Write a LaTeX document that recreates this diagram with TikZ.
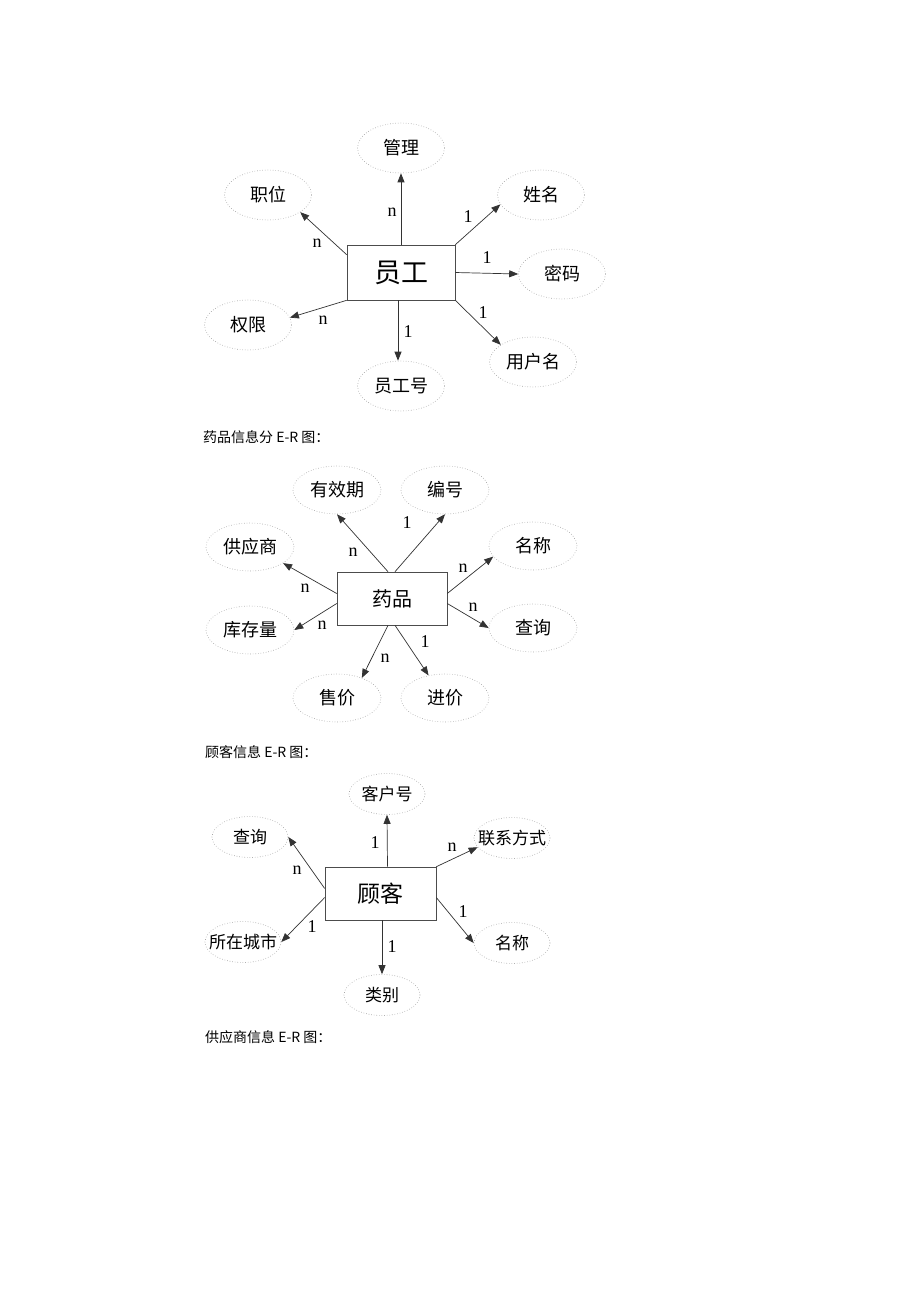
\documentclass[tikz,border=0pt]{standalone}
\usepackage{fontspec}
\setmainfont{Liberation Serif}
\newfontfamily\cjk{Noto Sans CJK SC}
\usetikzlibrary{shapes.geometric,arrows.meta}
\newcommand\zb[1]{\makebox[0pt]{#1}}
\begin{document}
\begin{tikzpicture}[x=1pt,y=-1pt,
 attr/.style={ellipse, draw=gray!75, dotted, line width=0.6pt, inner sep=0pt,
   font=\cjk\fontsize{18}{18}\selectfont},
 aA/.style={attr, minimum width=87pt, minimum height=50pt},
 aB/.style={attr, minimum width=88pt, minimum height=48pt},
 aC/.style={attr, minimum width=76pt, minimum height=41pt, font=\cjk\fontsize{17}{17}\selectfont},
 ent/.style={rectangle, draw=black!70, line width=0.6pt, inner sep=0pt},
 rel/.style={draw=black!80, line width=0.7pt, -{Triangle[length=9pt,width=7pt]}},
 card/.style={font=\fontsize{18}{18}\selectfont, inner sep=0pt},
 captxt/.style={anchor=west, font=\cjk\fontsize{14}{14}\selectfont, inner sep=0pt}]
\useasboundingbox (0,0) rectangle (920,1302);
\fill[white] (0,0) rectangle (920,1302);

% ---------- diagram 1 ----------
\node[ent, minimum width=108pt, minimum height=55pt, font=\cjk\fontsize{27}{27}\selectfont] (r1) at (401,272.5) {员工};
\node[aA] (e1gl) at (401,148) {\zb{管理}};
\node[aA] (e1zw) at (268,195) {\zb{职位}};
\node[aA] (e1xm) at (541,195) {\zb{姓名}};
\node[aA] (e1mm) at (562,274) {\zb{密码}};
\node[aA] (e1qx) at (248,325) {\zb{权限}};
\node[aA] (e1gh) at (401,386) {\zb{员工号}};
\node[aA] (e1yh) at (533,362) {\zb{用户名}};
\draw[rel] (r1.north) -- (e1gl.south);
\draw[rel] ([yshift=-10pt]r1.north west) -- (e1zw.-28);
\draw[rel] (r1.north east) -- (e1xm.193);
\draw[rel] (r1.east) -- (e1mm.west);
\draw[rel] (r1.south west) -- (e1qx.10);
\draw[rel] ([xshift=-3pt]r1.south) -- ([xshift=-3pt]e1gh.north);
\draw[rel] (r1.south east) -- (e1yh.152);
\node[card] (k1a) at (392,212) {n};
\node[card] (k1b) at (317,243) {n};
\node[card] (k1c) at (468,217) {1};
\node[card] (k1d) at (487,258) {1};
\node[card] (k1e) at (323,320) {n};
\node[card] (k1f) at (408,332) {1};
\node[card] (k1g) at (483,313) {1};

% ---------- diagram 2 ----------
\node[captxt] (c1) at (203,437) {药品信息分 E-R 图：};
\node[ent, minimum width=110pt, minimum height=53pt, font=\cjk\fontsize{20}{20}\selectfont] (r2) at (392,598.5) {药品};
\node[aB] (e2yx) at (337,490) {\zb{有效期}};
\node[aB] (e2bh) at (445,490) {\zb{编号}};
\node[aB] (e2gy) at (250,547) {\zb{供应商}};
\node[aB] (e2kc) at (250,630) {\zb{库存量}};
\node[aB] (e2mc) at (533,546) {\zb{名称}};
\node[aB] (e2cx) at (533,628) {\zb{查询}};
\node[aB] (e2sj) at (337,698) {\zb{售价}};
\node[aB] (e2jj) at (445,698) {\zb{进价}};
\draw[rel] ([xshift=-4pt]r2.north) -- (e2yx.south);
\draw[rel] ([xshift=3pt]r2.north) -- (e2bh.south);
\draw[rel] ([yshift=5pt]r2.west) -- (e2gy.-26);
\draw[rel] ([yshift=-5pt]r2.west) -- (e2kc.east);
\draw[rel] ([yshift=5pt]r2.east) -- (e2mc.195);
\draw[rel] ([yshift=-5pt]r2.east) -- (e2cx.west);
\draw[rel] ([xshift=-4pt]r2.south) -- (e2sj.39);
\draw[rel] ([xshift=3pt]r2.south) -- (e2jj.126);
\node[card] (k2a) at (353,552) {n};
\node[card] (k2b) at (407,523) {1};
\node[card] (k2c) at (305,588) {n};
\node[card] (k2d) at (322,625) {n};
\node[card] (k2e) at (463,568) {n};
\node[card] (k2f) at (473,607) {n};
\node[card] (k2g) at (385,658) {n};
\node[card] (k2h) at (425,642) {1};

% ---------- diagram 3 ----------
\node[captxt] (c2) at (205,752) {顾客信息 E-R 图：};
\node[ent, minimum width=111pt, minimum height=53pt, font=\cjk\fontsize{23}{23}\selectfont] (r3) at (380.5,893.5) {顾客};
\node[aC] (e3kh) at (387,794) {\zb{客户号}};
\node[aC] (e3cx) at (250,837) {\zb{查询}};
\node[aC] (e3lx) at (512,838) {\zb{联系方式}};
\node[aC] (e3sz) at (243,942) {\zb{所在城市}};
\node[aC] (e3mc) at (512,943) {\zb{名称}};
\node[aC] (e3lb) at (382,995) {\zb{类别}};
\draw[rel] ([xshift=7pt]r3.north) -- (e3kh.south);
\draw[rel] ([yshift=5pt]r3.west) -- (e3cx.east);
\draw[rel] (r3.north east) -- (e3lx.195);
\draw[rel] ([yshift=-4pt]r3.west) -- (e3sz.east);
\draw[rel] ([yshift=-4pt]r3.east) -- (e3mc.west);
\draw[rel] ([xshift=1.5pt]r3.south) -- (e3lb.north);
\node[card] (k3a) at (375,843) {1};
\node[card] (k3b) at (297,870) {n};
\node[card] (k3c) at (452,847) {n};
\node[card] (k3d) at (312,927) {1};
\node[card] (k3e) at (463,912) {1};
\node[card] (k3f) at (392,947) {1};

\node[captxt] (c3) at (205,1037) {供应商信息 E-R 图：};
\end{tikzpicture}
\end{document}
